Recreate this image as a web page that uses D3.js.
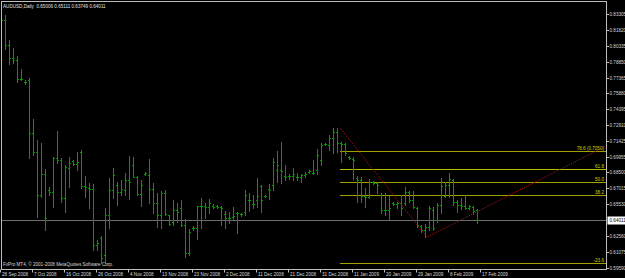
<!DOCTYPE html>
<html>
<head>
<meta charset="utf-8">
<script src="https://cdn.jsdelivr.net/npm/d3@7"></script>
<style>
body{margin:0;background:#000;overflow:hidden}
svg{display:block}
text{font-family:"Liberation Sans",Arial,sans-serif}
</style>
</head>
<body>
<div id="chart"></div>
<script>
// AUDUSD daily bars (oldest first)
var opens = [
  0.8302,0.8274,0.8041,0.7919,0.7900,0.7723,0.7695,0.7713,0.7218,0.7040,
  0.6638,0.6834,0.6685,0.6666,0.6984,0.6965,0.6610,0.6891,0.6956,0.6928,
  0.7040,0.6722,0.6704,0.6694,0.6171,0.6236,0.6077,0.6451,0.6685,0.6732,
  0.6666,0.6685,0.6778,0.6919,0.6806,0.6648,0.6834,0.6825,0.6694,0.6563,
  0.6451,0.6657,0.6451,0.6386,0.6498,0.6517,0.6358,0.6096,0.6330,0.6330,
  0.6535,0.6535,0.6526,0.6535,0.6535,0.6526,0.6461,0.6423,0.6432,0.6470,
  0.6461,0.6479,0.6591,0.6554,0.6591,0.6722,0.6629,0.6694,0.6732,0.6872,
  0.6872,0.6816,0.6816,0.6816,0.6806,0.6806,0.6825,0.6853,0.6844,0.6872,
  0.6965,0.7115,0.7106,0.7171,0.7227,0.7124,0.7115,0.6993,0.6975,0.6797,
  0.6778,0.6629,0.6619,0.6760,0.6750,0.6638,0.6498,0.6498,0.6563,0.6554,
  0.6563,0.6563,0.6666,0.6591,0.6517,0.6348,0.6311,0.6339,0.6498,0.6404,
  0.6545,0.6629,0.6732,0.6778,0.6573,0.6545,0.6535,0.6517,0.6526,0.65006
];
var highs = [
  0.8321,0.8321,0.8087,0.8013,0.7938,0.7816,0.7713,0.7732,0.7349,0.7152,
  0.7124,0.6881,0.6713,0.6993,0.7237,0.6984,0.6919,0.6993,0.6965,0.7040,
  0.7059,0.6816,0.6750,0.6741,0.6217,0.6255,0.6517,0.6797,0.6891,0.6760,
  0.6778,0.6844,0.7003,0.6993,0.6816,0.6778,0.6853,0.6975,0.6750,0.6657,
  0.6676,0.6685,0.6451,0.6591,0.6563,0.6591,0.6414,0.6320,0.6348,0.6535,
  0.6610,0.6563,0.6601,0.6554,0.6545,0.6535,0.6489,0.6479,0.6526,0.6479,
  0.6470,0.6685,0.6657,0.6638,0.6797,0.6732,0.6638,0.6741,0.6984,0.7050,
  0.7134,0.6919,0.6834,0.6891,0.6844,0.6834,0.6853,0.6872,0.6965,0.7068,
  0.7124,0.7124,0.7199,0.7265,0.7268,0.7134,0.7124,0.7003,0.6993,0.6816,
  0.6806,0.6704,0.6788,0.6769,0.6760,0.6657,0.6657,0.6629,0.6573,0.6573,
  0.6638,0.6713,0.6676,0.6676,0.6526,0.6358,0.6367,0.6535,0.6526,0.6563,
  0.6797,0.6760,0.6844,0.6788,0.6591,0.6610,0.6638,0.6545,0.6535,0.65111
];
var lows = [
  0.8265,0.8003,0.7863,0.7872,0.7695,0.7713,0.7676,0.6984,0.7012,0.6432,
  0.6619,0.6311,0.6638,0.6526,0.6937,0.6573,0.6479,0.6713,0.6919,0.6872,
  0.6704,0.6619,0.6517,0.6124,0.6124,0.6002,0.6002,0.6330,0.6610,0.6545,
  0.6638,0.6638,0.6601,0.6806,0.6638,0.6535,0.6825,0.6563,0.6470,0.6339,
  0.6330,0.6451,0.6358,0.6358,0.6386,0.6348,0.6058,0.6077,0.6311,0.6227,
  0.6330,0.6423,0.6470,0.6517,0.6517,0.6358,0.6330,0.6376,0.6404,0.6283,
  0.6442,0.6451,0.6489,0.6517,0.6526,0.6479,0.6619,0.6601,0.6685,0.6760,
  0.6750,0.6778,0.6788,0.6778,0.6778,0.6760,0.6806,0.6844,0.6834,0.6834,
  0.6919,0.7106,0.7059,0.7031,0.7040,0.6947,0.7012,0.6975,0.6788,0.6573,
  0.6573,0.6526,0.6610,0.6741,0.6657,0.6470,0.6451,0.6414,0.6545,0.6517,
  0.6451,0.6545,0.6573,0.6517,0.6339,0.6292,0.6245,0.6311,0.6311,0.6386,
  0.6470,0.6619,0.6619,0.6545,0.6479,0.6507,0.6507,0.6507,0.6461,0.63749
];
var closes = [
  0.8274,0.8041,0.7919,0.7900,0.7723,0.7723,0.7695,0.7218,0.7040,0.6638,
  0.6834,0.6423,0.6666,0.6984,0.6965,0.6610,0.6900,0.6937,0.6928,0.6947,
  0.6722,0.6713,0.6694,0.6171,0.6189,0.6049,0.6451,0.6685,0.6825,0.6666,
  0.6694,0.6778,0.6760,0.6806,0.6648,0.6732,0.6844,0.6694,0.6563,0.6451,
  0.6657,0.6461,0.6367,0.6498,0.6479,0.6358,0.6096,0.6292,0.6330,0.6535,
  0.6535,0.6526,0.6563,0.6526,0.6526,0.6517,0.6423,0.6423,0.6442,0.6470,
  0.6461,0.6638,0.6591,0.6554,0.6629,0.6591,0.6629,0.6685,0.6947,0.6919,
  0.6863,0.6806,0.6816,0.6834,0.6806,0.6825,0.6834,0.6863,0.6844,0.7012,
  0.7106,0.7115,0.7171,0.7227,0.7124,0.7115,0.7031,0.6984,0.6965,0.6778,
  0.6629,0.6619,0.6760,0.6750,0.6732,0.6498,0.6498,0.6517,0.6554,0.6563,
  0.6517,0.6666,0.6591,0.6526,0.6358,0.6311,0.6339,0.6517,0.6330,0.6545,
  0.6722,0.6732,0.6788,0.6573,0.6545,0.6535,0.6517,0.6535,0.6489,0.64011
];

// time axis: bar index of each label
var dateIdx = [0,8,16,24,32,40,48,56,64,72,80,88,96,104,112,120];
var dateLabels = ['28 Sep 2008','7 Oct 2008','16 Oct 2008','26 Oct 2008','4 Nov 2008','13 Nov 2008',
  '23 Nov 2008','2 Dec 2008','11 Dec 2008','21 Dec 2008','31 Dec 2008','11 Jan 2009',
  '20 Jan 2009','29 Jan 2009','8 Feb 2009','17 Feb 2009'];

// price axis labels
var priceLabels = ['0.83305','0.81820','0.80335','0.78850','0.77365','0.75880','0.74395','0.72910',
  '0.71425','0.69955','0.68500','0.67015','0.65530','0.62560','0.61075','0.59590'];
var lastPrice = 0.64011;

// fibonacci retracement drawn from the Jan high to the Jan low
var fibNames = ['78.6 (0.7050)','61.8','50.0','38.2','-23.6'];
var fibPrices = [0.7050,0.6878,0.6758,0.6637,0.6003];
var fibStart = 84.6;
// red trend lines (bar index, price)
var trendIdx = [84.6,106.4,151.1];
var trendPrice = [0.7268,0.6245,0.7096];

var W = 625, H = 278;
var plot = {left:1.5, right:606.5, top:1.5, bottom:269.5};
var fs = '4.6px';

var svg = d3.select('#chart').append('svg')
  .attr('width', W)
  .attr('height', H)
  .style('background', '#000');

var x = d3.scaleLinear().domain([0, 119]).range([1.5, 477.5]);
var y = d3.scaleLinear().domain([0.5959, 0.83305]).range([267.75, 14]);

svg.append('clipPath').attr('id', 'clip')
  .append('rect')
  .attr('x', plot.left).attr('y', plot.top)
  .attr('width', plot.right-plot.left).attr('height', plot.bottom-plot.top);

var g = svg.append('g').attr('clip-path', 'url(#clip)');

// current price line
g.append('line')
  .attr('x1', plot.left).attr('x2', plot.right)
  .attr('y1', Math.round(y(lastPrice))+0.5).attr('y2', Math.round(y(lastPrice))+0.5)
  .attr('stroke', '#6e6e6e').attr('stroke-width', 1);

// fib levels
fibPrices.forEach(function (p, k) {
  var yy = Math.round(y(p))+0.5;
  g.append('line')
    .attr('x1', x(fibStart)).attr('x2', plot.right)
    .attr('y1', yy).attr('y2', yy)
    .attr('stroke', k==1 ? '#bcbc00' : '#a0a000')
    .attr('stroke-width', 1);
  svg.append('text')
    .attr('x', 604).attr('y', yy-1.2)
    .attr('text-anchor', 'end')
    .attr('font-size', fs)
    .attr('fill', '#d0d000')
    .text(fibNames[k]);
});

// bars (OHLC)
var data = d3.range(opens.length);
var bars = g.append('g').attr('fill', '#009c00').attr('shape-rendering', 'crispEdges');
data.forEach(function (i) {
  var c = Math.floor(x(i));
  var yh = Math.round(y(highs[i])), yl = Math.round(y(lows[i]));
  bars.append('rect').attr('x', c).attr('y', yh).attr('width', 1).attr('height', Math.max(1, yl-yh+1));
  bars.append('rect').attr('x', c-1).attr('y', Math.round(y(opens[i]))).attr('width', 1).attr('height', 1);
  bars.append('rect').attr('x', c+1).attr('y', Math.round(y(closes[i]))).attr('width', 1).attr('height', 1);
});

// trend lines
var tl = d3.line().x(function (k) {return x(trendIdx[k]);}).y(function (k) {return y(trendPrice[k]);});
g.append('path')
  .attr('d', tl([0,1,2]))
  .attr('fill', 'none')
  .attr('stroke', '#a01010')
  .attr('stroke-width', 1)
  .attr('stroke-dasharray', '1.2,1');

// frame
svg.append('rect')
  .attr('x', plot.left).attr('y', plot.top)
  .attr('width', plot.right-plot.left).attr('height', plot.bottom-plot.top)
  .attr('fill', 'none').attr('stroke', '#bdbdbd').attr('stroke-width', 1);

// price axis
priceLabels.forEach(function (s) {
  var yy = Math.round(y(+s))+0.5;
  svg.append('line')
    .attr('x1', plot.right).attr('x2', plot.right+2.5)
    .attr('y1', yy).attr('y2', yy)
    .attr('stroke', '#bdbdbd');
  svg.append('text')
    .attr('x', 609.5).attr('y', yy+1.6)
    .attr('font-size', fs)
    .attr('fill', '#d8d8d8')
    .text(s);
});
var ly = Math.round(y(lastPrice));
svg.append('rect')
  .attr('x', 607.5).attr('y', ly-3.5)
  .attr('width', 17.5).attr('height', 8)
  .attr('fill', '#ffffff');
svg.append('text')
  .attr('x', 609.5).attr('y', ly+2.1)
  .attr('font-size', fs)
  .attr('fill', '#000')
  .text(d3.format('.5f')(lastPrice));

// time axis
dateIdx.forEach(function (i, k) {
  var c = Math.floor(x(i))-1+0.5;
  svg.append('line')
    .attr('x1', c).attr('x2', c)
    .attr('y1', plot.bottom).attr('y2', plot.bottom+3)
    .attr('stroke', '#bdbdbd');
  svg.append('text')
    .attr('x', c+1.5).attr('y', 276)
    .attr('font-size', fs)
    .attr('fill', '#d8d8d8')
    .text(dateLabels[k]);
});

// header and footer text
var n = opens.length-1;
var f5 = d3.format('.5f');
svg.append('text')
  .attr('x', 3).attr('y', 7.5)
  .attr('font-size', fs)
  .attr('fill', '#e0e0e0')
  .attr('xml:space', 'preserve')
  .text('AUDUSD,Daily  ' + f5(opens[n]) + ' ' + f5(highs[n]) + ' ' + f5(lows[n]) + ' ' + f5(closes[n]));
svg.append('text')
  .attr('x', 3).attr('y', 266)
  .attr('font-size', fs)
  .attr('fill', '#d8d8d8')
  .text('FxPro MT4, \u00a9 2001-2008 MetaQuotes Software Corp.');
</script>
</body>
</html>
